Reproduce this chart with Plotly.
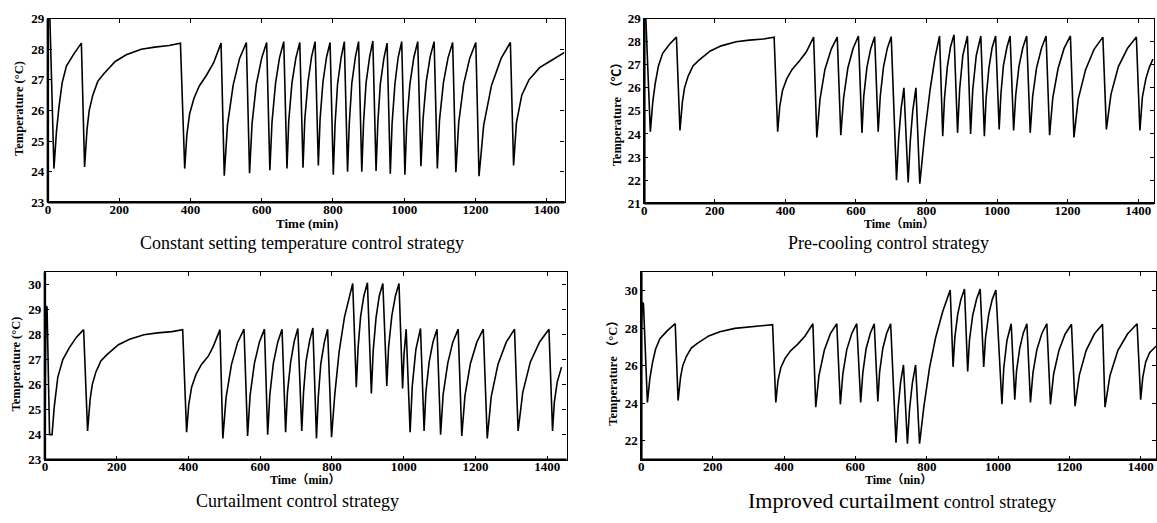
import plotly.graph_objects as go

# ---------------- data: (time [min], temperature [°C]) ----------------
constant_points = [
    (0, 29.6), (5, 29.3), (17, 24.1),
    (24, 25.3), (31, 26.1), (40, 26.9), (52, 27.45), (73, 27.85), (94, 28.2),
    (103, 24.15),
    (110, 25.4), (116, 26.0), (126, 26.5), (140, 26.95), (157, 27.2), (189, 27.6), (220, 27.82),
    (262, 28.0), (300, 28.07), (340, 28.12), (372, 28.2),
    (384, 24.1),
    (390, 25.2), (398, 25.9), (410, 26.4), (425, 26.8), (445, 27.15), (465, 27.55), (486, 28.2),
    (495, 23.87), (504, 25.52), (520, 26.83), (538, 27.7), (557, 28.22),
    (566, 23.95), (573, 25.57), (585, 26.85), (600, 27.71), (614, 28.22),
    (623, 24.05), (629, 25.62), (639, 26.89), (650, 27.72), (662, 28.25),
    (671, 24.1), (676, 25.66), (685, 26.9), (696, 27.72), (707, 28.22),
    (716, 24.13), (721, 25.7), (730, 26.93), (740, 27.75), (750, 28.25),
    (759, 24.2), (764, 25.73), (772, 26.93), (782, 27.74), (792, 28.22),
    (801, 23.9), (806, 25.55), (813, 26.86), (823, 27.73), (832, 28.25),
    (841, 24.0), (846, 25.6), (853, 26.89), (863, 27.74), (872, 28.25),
    (881, 24.0), (886, 25.61), (893, 26.9), (903, 27.75), (912, 28.27),
    (921, 24.02), (926, 25.6), (933, 26.86), (943, 27.7), (952, 28.2),
    (961, 23.93), (966, 25.57), (974, 26.87), (983, 27.73), (993, 28.25),
    (1002, 23.9), (1007, 25.55), (1016, 26.86), (1027, 27.73), (1038, 28.25),
    (1047, 24.18), (1053, 25.73), (1062, 26.95), (1073, 27.76), (1084, 28.25),
    (1093, 24.1), (1099, 25.67), (1110, 26.9), (1123, 27.72), (1136, 28.22),
    (1145, 23.98), (1153, 25.6), (1167, 26.87), (1184, 27.71), (1201, 28.22),
    (1210, 23.85), (1223, 25.51), (1245, 26.82), (1272, 27.7), (1298, 28.22),
    (1307, 24.2), (1315, 25.6), (1330, 26.5), (1350, 27.0), (1380, 27.4), (1415, 27.65), (1450, 27.9),
]

precooling_points = [
    (0, 29.4), (4, 29.1), (17, 24.1),
    (24, 25.4), (31, 26.2), (40, 26.95), (52, 27.5), (72, 27.9), (91, 28.2),
    (101, 24.15),
    (108, 25.4), (114, 26.0), (124, 26.5), (138, 26.95), (155, 27.2), (187, 27.6), (218, 27.82),
    (260, 28.0), (298, 28.07), (338, 28.12), (368, 28.2),
    (378, 24.1),
    (384, 25.2), (392, 25.9), (404, 26.4), (419, 26.8), (439, 27.15), (459, 27.55), (480, 28.2),
    (489, 23.85), (498, 25.5), (512, 26.8), (530, 27.68), (547, 28.2),
    (557, 23.95), (565, 25.57), (577, 26.86), (592, 27.72), (607, 28.25),
    (617, 24.05), (622, 25.62), (631, 26.88), (642, 27.71), (653, 28.22),
    (663, 24.1), (669, 25.66), (678, 26.9), (689, 27.72), (700, 28.22),
    (715, 22.0), (721, 23.8), (728, 25.1), (736, 26.0),
    (748, 21.9), (754, 23.7), (761, 25.0), (770, 26.0),
    (781, 21.85), (795, 24.0), (810, 25.9), (824, 27.3), (837, 28.25),
    (846, 23.9), (851, 25.55), (859, 26.9), (868, 27.77), (878, 28.3),
    (888, 24.05), (894, 25.94), (903, 27.41), (916, 28.25),
    (925, 24.0), (931, 25.9), (941, 27.4), (954, 28.25),
    (964, 23.9), (969, 25.55), (977, 26.87), (986, 27.74), (996, 28.25),
    (1006, 24.2), (1011, 25.74), (1018, 26.96), (1028, 27.76), (1037, 28.25),
    (1047, 24.15), (1053, 25.69), (1062, 26.92), (1073, 27.74), (1084, 28.25),
    (1094, 24.05), (1101, 25.63), (1112, 26.87), (1126, 27.72), (1139, 28.25),
    (1149, 23.95), (1158, 25.57), (1173, 26.84), (1190, 27.71), (1208, 28.25),
    (1218, 23.85), (1230, 25.5), (1251, 26.79), (1275, 27.67), (1300, 28.2),
    (1310, 24.2), (1323, 25.72), (1344, 26.92), (1370, 27.72), (1395, 28.2),
    (1405, 24.15), (1412, 25.6), (1422, 26.4), (1432, 26.9), (1442, 27.25),
]

curtailment_points = [
    (0, 23.2), (3, 29.15), (6, 29.1), (13, 24.0), (20, 24.0),
    (26, 25.1), (36, 26.3), (50, 27.0), (67, 27.45), (88, 27.9), (108, 28.2),
    (119, 24.15),
    (126, 25.4), (132, 26.0), (142, 26.5), (156, 26.95), (173, 27.2), (205, 27.6), (236, 27.82),
    (276, 28.0), (314, 28.07), (354, 28.12), (384, 28.2),
    (395, 24.1),
    (401, 25.2), (409, 25.9), (421, 26.4), (436, 26.8), (456, 27.15), (470, 27.55), (488, 28.2),
    (496, 23.85), (505, 25.48), (520, 26.8), (537, 27.68), (555, 28.22),
    (565, 23.95), (572, 25.57), (584, 26.85), (598, 27.71), (612, 28.22),
    (621, 24.0), (627, 25.6), (637, 26.87), (649, 27.7), (661, 28.22),
    (671, 24.1), (676, 25.67), (685, 26.9), (695, 27.73), (705, 28.25),
    (716, 24.15), (721, 25.71), (728, 26.94), (738, 27.76), (747, 28.27),
    (757, 23.85), (762, 25.5), (769, 26.83), (779, 27.7), (788, 28.22),
    (799, 23.9), (808, 25.6), (820, 27.3), (835, 28.7), (858, 30.05),
    (868, 25.9), (873, 27.48), (880, 28.72), (889, 29.55), (899, 30.08),
    (910, 25.65), (915, 27.34), (923, 28.67), (932, 29.55), (942, 30.05),
    (953, 25.95), (958, 27.5), (967, 28.75), (977, 29.55), (987, 30.05),
    (997, 25.85), (1001, 27.2), (1007, 28.22),
    (1018, 24.1), (1024, 25.95), (1034, 27.4), (1047, 28.25),
    (1057, 24.15), (1062, 25.7), (1071, 26.9), (1082, 27.72), (1093, 28.22),
    (1103, 24.0), (1110, 25.6), (1123, 26.86), (1137, 27.7), (1152, 28.22),
    (1162, 23.95), (1171, 25.57), (1186, 26.84), (1204, 27.7), (1222, 28.22),
    (1233, 23.85), (1244, 25.51), (1263, 26.82), (1286, 27.7), (1309, 28.22),
    (1319, 24.15), (1332, 25.69), (1353, 26.9), (1379, 27.71), (1405, 28.22),
    (1415, 24.15), (1420, 25.3), (1428, 26.1), (1440, 26.7),
]

improved_points = [
    (0, 28.0), (3, 29.4), (6, 29.3), (17, 24.05),
    (24, 25.35), (31, 26.15), (40, 26.9), (52, 27.45), (73, 27.88), (95, 28.25),
    (103, 24.15),
    (110, 25.4), (116, 26.0), (126, 26.5), (140, 26.95), (157, 27.2), (189, 27.6), (220, 27.82),
    (262, 28.0), (300, 28.07), (340, 28.12), (368, 28.2),
    (377, 24.05),
    (383, 25.2), (391, 25.9), (403, 26.4), (418, 26.8), (438, 27.15), (459, 27.6), (481, 28.25),
    (489, 23.8), (498, 25.49), (513, 26.83), (530, 27.72), (548, 28.25),
    (558, 23.95), (565, 25.58), (576, 26.87), (590, 27.73), (604, 28.25),
    (615, 24.05), (621, 25.63), (630, 26.9), (642, 27.74), (653, 28.25),
    (663, 24.1), (668, 25.67), (677, 26.93), (688, 27.75), (699, 28.25),
    (714, 21.9), (720, 23.8), (727, 25.15), (735, 26.05),
    (746, 21.85), (752, 23.7), (760, 25.1), (769, 26.05),
    (780, 21.85), (792, 23.8), (808, 25.9), (825, 27.5), (845, 28.9), (866, 30.05),
    (874, 25.95), (879, 27.52), (887, 28.75), (896, 29.55), (906, 30.1),
    (915, 25.7), (920, 27.37), (929, 28.69), (940, 29.57), (950, 30.1),
    (960, 25.95), (965, 27.5), (974, 28.75), (984, 29.55), (994, 30.05),
    (1011, 23.95), (1016, 25.86), (1025, 27.35), (1037, 28.25),
    (1047, 24.2), (1052, 25.74), (1061, 26.95), (1071, 27.76), (1081, 28.25),
    (1091, 24.05), (1098, 25.63), (1109, 26.87), (1123, 27.73), (1137, 28.25),
    (1147, 23.95), (1156, 25.57), (1171, 26.84), (1188, 27.69), (1206, 28.22),
    (1216, 23.85), (1228, 25.51), (1247, 26.82), (1270, 27.7), (1293, 28.22),
    (1300, 23.8), (1314, 25.49), (1336, 26.82), (1363, 27.7), (1390, 28.25),
    (1400, 24.2), (1406, 25.4), (1414, 26.2), (1425, 26.7), (1443, 27.05),
]

x_tick_values = [0, 200, 400, 600, 800, 1000, 1200, 1400]
y_ticks_constant = [23, 24, 25, 26, 27, 28, 29]
y_ticks_precooling = [21, 22, 23, 24, 25, 26, 27, 28, 29]
y_ticks_curtailment = [23, 24, 25, 26, 27, 28, 29, 30]
y_ticks_improved = [22, 24, 26, 28, 30]

subtitles = [
    "Constant setting temperature control strategy",
    "Pre-cooling control strategy",
    "Curtailment control strategy",
    "<span style='font-size:22px'>Improved curtailment</span> control strategy",
]
x_titles = ["Time (min)", "Time（min）", "Time（min）", "Time（nin）"]
y_titles = ["Temperature (°C)", "Temperature （℃）", "Temperature (°C)", "Temperature （°C）"]

# ---------------- layout geometry (screen pixels of the target picture) ----------------
W, H = 1157, 523


def px(x):
    return x / W


def py(y):
    return 1 - y / H


panels = [
    # (points, yticks, xrange, yrange, left, right, top, bottom)
    (constant_points, y_ticks_constant, [0, 1450], [23, 29], 45, 563, 12, 201),
    (precooling_points, y_ticks_precooling, [0, 1445], [21, 29], 643, 1154, 12, 202),
    (curtailment_points, y_ticks_curtailment, [0, 1454], [23, 30.5], 42, 565, 273, 466),
    (improved_points, y_ticks_improved, [0, 1443], [21, 31], 640, 1156, 273, 466),
]
subtitle_pos = [(300, 243), (888, 243), (295, 509), (901, 508)]
xtitle_pos = [(305, 223), (898, 223), (303, 487), (898, 487)]
xtitle_size = [13, 12, 12, 12]
ytitle_pos = [(16, 104), (616, 107), (14, 367), (612, 373)]

FONT = "Liberation Serif, Times New Roman, Noto Sans CJK SC, serif"

fig = go.Figure()
layout = dict(
    width=W, height=H,
    margin=dict(l=0, r=0, t=0, b=0),
    paper_bgcolor="white", plot_bgcolor="white",
    showlegend=False,
    annotations=[], shapes=[],
)

for i, (pts, yticks, xr, yr, left, right, top, bottom) in enumerate(panels):
    n = "" if i == 0 else str(i + 1)
    t_vals = [p[0] for p in pts]
    temp_vals = [p[1] for p in pts]
    fig.add_trace(go.Scatter(
        x=t_vals, y=temp_vals, mode="lines",
        line=dict(color="black", width=1.6),
        xaxis="x" + n, yaxis="y" + n, hoverinfo="skip",
    ))
    common = dict(
        showgrid=False, zeroline=False, showline=True, linecolor="black", linewidth=1.2,
        mirror="ticks", ticks="inside", ticklen=4, tickwidth=1, tickcolor="black",
        tickfont=dict(family=FONT, size=13, color="black", weight="bold"),
        ticklabeloverflow="allow",
    )
    layout["xaxis" + n] = dict(
        common, range=xr, domain=[px(left), px(right)], anchor="y" + n,
        tickmode="array", tickvals=x_tick_values, ticklabelstandoff=-5,
    )
    layout["yaxis" + n] = dict(
        common, range=yr, domain=[py(bottom), py(top)], anchor="x" + n,
        tickmode="array", tickvals=yticks,
    )
    # thicker left and bottom axis lines
    layout["shapes"].append(dict(type="line", xref="x" + n + " domain", yref="y" + n + " domain",
                                 x0=0, x1=0, y0=0, y1=1, line=dict(color="black", width=2.5)))
    layout["shapes"].append(dict(type="line", xref="x" + n + " domain", yref="y" + n + " domain",
                                 x0=0, x1=1, y0=0, y1=0, line=dict(color="black", width=2.5)))
    sx, sy = subtitle_pos[i]
    layout["annotations"].append(dict(
        text=subtitles[i], x=px(sx), y=py(sy), xref="paper", yref="paper",
        showarrow=False, xanchor="center", yanchor="middle",
        font=dict(family=FONT, size=18, color="black"),
    ))
    tx, ty = xtitle_pos[i]
    layout["annotations"].append(dict(
        text=x_titles[i], x=px(tx), y=py(ty), xref="paper", yref="paper",
        showarrow=False, xanchor="center", yanchor="middle",
        font=dict(family=FONT, size=xtitle_size[i], color="black", weight="bold"),
    ))
    yx, yy = ytitle_pos[i]
    layout["annotations"].append(dict(
        text=y_titles[i], x=px(yx), y=py(yy), xref="paper", yref="paper",
        showarrow=False, xanchor="center", yanchor="middle", textangle=-90,
        font=dict(family=FONT, size=12.5, color="black", weight="bold"),
    ))

fig.update_layout(**layout)
# remove the default page margin so the figure sits at the window's top-left corner
fig.write_html("out.html", config={"displayModeBar": False},
               post_script="document.body.style.margin='0px';")
